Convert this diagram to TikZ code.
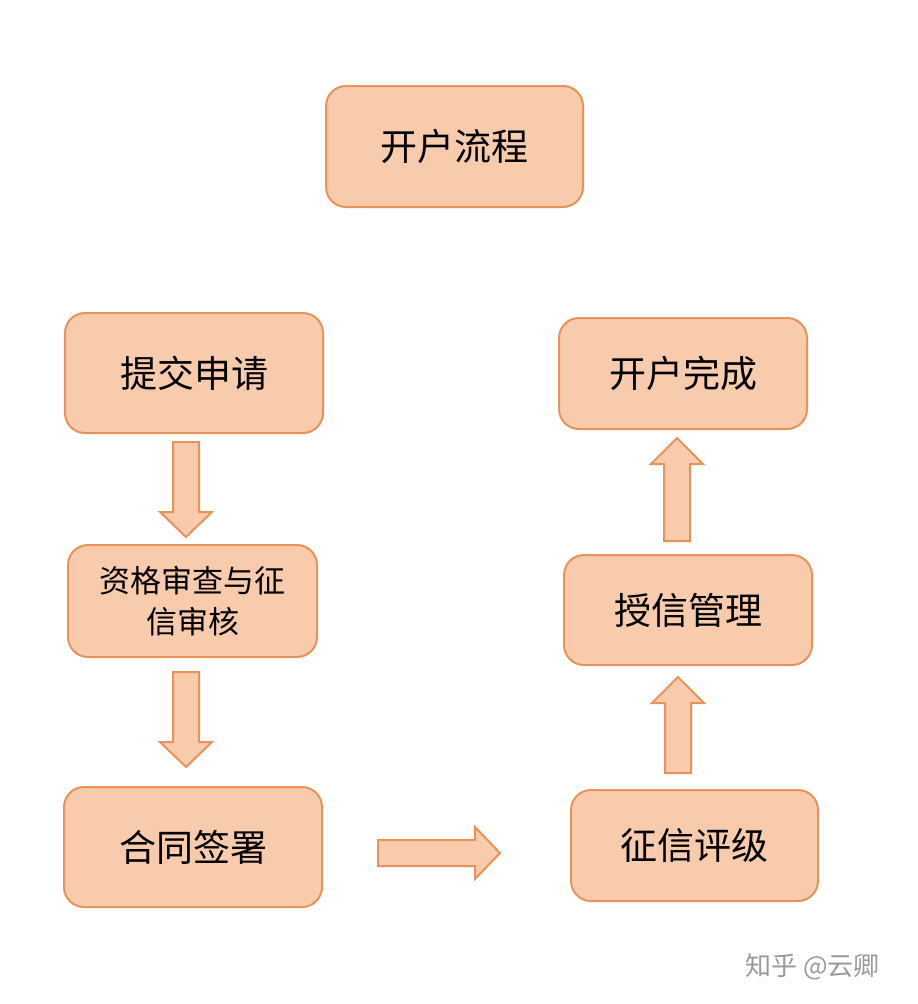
\documentclass[tikz,border=0pt]{standalone}
\usepackage{fontspec}
\newfontfamily\cjk{Noto Sans CJK SC}
\definecolor{boxfill}{HTML}{F8CBAD}
\definecolor{boxdraw}{HTML}{E8935A}
\definecolor{wm}{HTML}{9A9A9A}
\begin{document}
\begin{tikzpicture}[x=1pt,y=-1pt,
  box/.style={draw=boxdraw,fill=boxfill,line width=2pt,rounded corners=20pt,
    align=center,font=\cjk\fontsize{37}{44}\selectfont,text=black,inner sep=0pt},
  smallbox/.style={box,font=\cjk\fontsize{31}{41}\selectfont},
  blockarrow/.style={draw=boxdraw,fill=boxfill,line width=2pt,line join=miter}]
\useasboundingbox (0,0) rectangle (918,1004);
\fill[white] (0,0) rectangle (918,1004);

\node[box,minimum width=257pt,minimum height=121pt] (title) at (454.5,146.5) {开户流程};
\node[box,minimum width=258pt,minimum height=120pt] (apply) at (194,373) {提交申请};
\node[smallbox,minimum width=249pt,minimum height=112pt] (review) at (192.5,601) {资格审查与征\\信审核};
\node[box,minimum width=258pt,minimum height=120pt] (sign) at (193,847) {合同签署};
\node[box,minimum width=248pt,minimum height=111pt] (done) at (683,373.5) {开户完成};
\node[box,minimum width=248pt,minimum height=110pt] (credit) at (688,610) {授信管理};
\node[box,minimum width=247pt,minimum height=111pt] (rating) at (694.5,845.5) {征信评级};

% down arrow 1
\draw[blockarrow] (173,442) -- (199,442) -- (199,512) -- (212,512) -- (186,537)
  -- (160,512) -- (173,512) -- cycle;
% down arrow 2
\draw[blockarrow] (173,672) -- (199,672) -- (199,742) -- (212,742) -- (186,767)
  -- (160,742) -- (173,742) -- cycle;
% right arrow
\draw[blockarrow] (378,840) -- (475,840) -- (475,827) -- (500,853) -- (475,879)
  -- (475,866) -- (378,866) -- cycle;
% up arrow 1
\draw[blockarrow] (665,773) -- (665,703) -- (652,703) -- (678,677) -- (704,703)
  -- (691,703) -- (691,773) -- cycle;
% up arrow 2
\draw[blockarrow] (664,541) -- (664,464) -- (651,464) -- (677,438) -- (703,464)
  -- (690,464) -- (690,541) -- cycle;

\node[font=\cjk\fontsize{26}{30}\selectfont,text=wm,anchor=east,inner sep=0pt] (mark) at (880,967) {知乎 @云卿};
\end{tikzpicture}
\end{document}
